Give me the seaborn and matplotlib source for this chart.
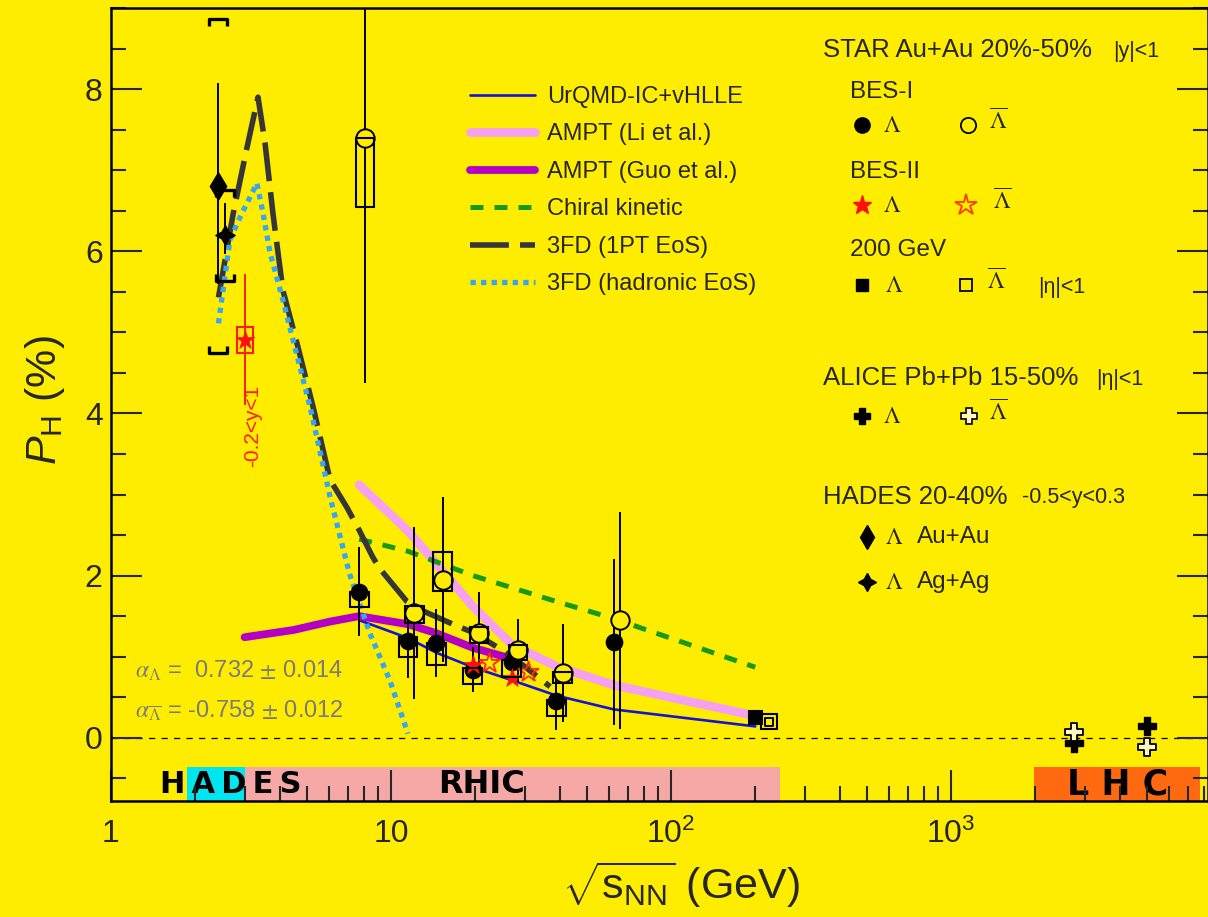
import numpy as np
import pandas as pd
import matplotlib
matplotlib.use('Agg')
import matplotlib.pyplot as plt
import seaborn as sns
from matplotlib.lines import Line2D
from matplotlib.patches import Rectangle
from matplotlib.path import Path
from matplotlib.ticker import LogLocator, MultipleLocator, FixedLocator, FixedFormatter, NullFormatter

# ---------------- data ----------------
# models
urqmd_x = [7.7, 11.5, 14.5, 19.6, 27.0, 39.0, 62.4, 200.0]
urqmd_y = [1.45, 1.23, 1.05, 0.87, 0.71, 0.52, 0.35, 0.14]

ampt_li_x = [7.7, 11.5, 14.5, 19.6, 27.0, 39.0, 62.4, 200.0]
ampt_li_y = [3.12, 2.55, 2.15, 1.62, 1.15, 0.88, 0.65, 0.27]

ampt_guo_x = [3.0, 4.5, 6.0, 7.7, 11.5, 14.5, 19.6, 26.0]
ampt_guo_y = [1.24, 1.33, 1.43, 1.50, 1.40, 1.29, 1.11, 0.99]

chiral_x = [7.7, 11.5, 19.6, 39.0, 62.4, 200.0]
chiral_y = [2.45, 2.30, 2.00, 1.68, 1.47, 0.87]

fd1pt_x = [2.42, 2.73, 3.06, 3.35, 3.55, 3.79, 4.11, 4.62, 5.27, 6.06, 6.96, 7.7, 8.6, 9.1,
           11.4, 12.7, 16.9, 19.6, 25.0, 30.0, 37.0]
fd1pt_y = [5.43, 6.46, 7.28, 7.90, 7.33, 6.46, 5.52, 4.86, 4.08, 3.18, 2.84, 2.56, 2.23, 2.09,
           1.68, 1.58, 1.39, 1.30, 1.08, 0.88, 0.63]

fdhad_x = [2.42, 2.66, 2.89, 3.32, 3.49, 3.70, 4.11, 4.73, 5.14, 6.06, 7.1, 8.4, 9.9, 11.5]
fdhad_y = [5.11, 6.14, 6.42, 6.84, 6.47, 5.98, 5.40, 4.57, 4.08, 2.97, 2.03, 1.29, 0.71, 0.05]

# STAR BES-I
bes1_lam_x = [7.7, 11.5, 14.5, 19.6, 27.0, 39.0, 62.4]
bes1_lam_y = [1.80, 1.19, 1.17, 0.84, 0.94, 0.45, 1.18]
bes1_lam_err = [0.55, 0.45, 0.42, 0.28, 0.22, 0.35, 1.02]
bes1_lam_sys_lo = [1.61, 1.00, 0.90, 0.66, 0.75, 0.27, 1.18]
bes1_lam_sys_hi = [1.80, 1.24, 1.17, 0.86, 0.96, 0.47, 1.18]

bes1_alam_x = [8.07, 12.1, 15.3, 20.6, 28.4, 41.1, 65.8]
bes1_alam_y = [7.40, 1.54, 1.95, 1.29, 1.08, 0.80, 1.45]
bes1_alam_err = [3.03, 1.06, 1.02, 0.51, 0.39, 0.60, 1.34]
bes1_alam_sys_lo = [6.54, 1.42, 1.81, 1.17, 0.96, 0.68, 1.45]
bes1_alam_sys_hi = [7.40, 1.63, 2.29, 1.37, 1.15, 0.81, 1.45]

# STAR BES-II
bes2_lam_x = [3.0, 19.6, 27.0]
bes2_lam_y = [4.91, 0.90, 0.74]
bes2_lam_err = [0.81, 0.06, 0.06]
bes2_sys_x = [3.0]
bes2_sys_lo = [4.75]
bes2_sys_hi = [5.07]
bes2_alam_x = [22.5, 31.0]
bes2_alam_y = [0.92, 0.81]

# STAR 200 GeV
s200_lam_x = [200.0]
s200_lam_y = [0.25]
s200_alam_x = [224.0]
s200_alam_y = [0.20]
s200_alam_sys_lo = [0.11]
s200_alam_sys_hi = [0.29]

# HADES
hades_au_x = [2.42]
hades_au_y = [6.80]
hades_au_err_lo = [1.20]
hades_au_err_hi = [1.28]
hades_au_sys_lo = [4.74]
hades_au_sys_hi = [8.87]
hades_ag_x = [2.55]
hades_ag_y = [6.20]
hades_ag_err_lo = [0.23]
hades_ag_err_hi = [0.39]
hades_ag_sys_lo = [5.63]
hades_ag_sys_hi = [6.76]

# ALICE
alice_x = [2760.0, 5020.0]
alice_lam_y = [-0.06, 0.14]
alice_alam_y = [0.07, -0.12]

# energy bands
band_labels = ['H\u2009A\u2009D\u2009E\u2009S', 'RHIC', 'L H C']
band_lo = [1.87, 3.01, 1980.0]
band_hi = [3.01, 245.0, 7750.0]
band_label_x = [2.68, 21.1, 3920.0]
band_label_size = [22, 23, 25]
band_colors = ['#00e6f0', '#f5a8a5', '#ff6a10']

model_labels = ['UrQMD-IC+vHLLE', 'AMPT (Li et al.)', 'AMPT (Guo et al.)',
                'Chiral kinetic', '3FD (1PT EoS)', '3FD (hadronic EoS)']

xtick_vals = [1, 10, 100, 1000]
xtick_labels = ['1', '10', r'$10^{2}$', r'$10^{3}$']
ytick_vals = [0, 2, 4, 6, 8]

# ---------------- style ----------------
YEL = '#ffed00'
sns.set_theme(style='ticks')
plt.rcParams['font.family'] = ['Liberation Sans', 'DejaVu Sans']
plt.rcParams['mathtext.fontset'] = 'custom'
plt.rcParams['mathtext.rm'] = 'Liberation Sans'
plt.rcParams['mathtext.it'] = 'Liberation Sans:italic'
plt.rcParams['mathtext.bf'] = 'Liberation Sans:bold'
plt.rcParams['axes.linewidth'] = 1.8
plt.rcParams['axes.edgecolor'] = 'black'

fig = plt.figure(figsize=(12.08, 9.17), dpi=100, facecolor=YEL)
ax = fig.add_axes([111 / 1208, 116 / 917, 1097 / 1208, 793 / 917])
ax.set_facecolor(YEL)
ax.set_axisbelow(False)
ax.set_xscale('log')
XMIN, XMAX, YMIN, YMAX = 1.0, 8280.0, -0.78, 9.0
ax.set_xlim(XMIN, XMAX)
ax.set_ylim(YMIN, YMAX)

# bands
BAND_TOP = -0.357
for lo, hi, col in zip(band_lo, band_hi, band_colors):
    ax.fill_between([lo, hi], YMIN, BAND_TOP, color=col, lw=0, zorder=1)
for lab, cx, fs in zip(band_labels, band_label_x, band_label_size):
    ax.text(cx, (YMIN + BAND_TOP) / 2 - 0.01, lab, ha='center', va='center', fontsize=fs,
            fontweight='black', family='DejaVu Sans', color='black', zorder=2)

# zero line
ax.axhline(0, color='black', lw=0.9, ls=(0, (5, 5)), zorder=2)

# model curves
model_specs = [
    (urqmd_x, urqmd_y, dict(color='#1414d2', lw=1.9, ls='-')),
    (ampt_li_x, ampt_li_y, dict(color='#f5a0f0', lw=6.3, ls='-')),
    (ampt_guo_x, ampt_guo_y, dict(color='#b400c4', lw=5.6, ls='-')),
    (chiral_x, chiral_y, dict(color='#189a18', lw=3.6, ls=(0, (2.6, 2.2)))),
    (fd1pt_x, fd1pt_y, dict(color='#363636', lw=4.0, ls=(0, (7, 2)))),
    (fdhad_x, fdhad_y, dict(color='#35a6f0', lw=3.8, ls=(0, (1, 1)))),
]
for (mx, my, st) in model_specs:
    df = pd.DataFrame({'x': mx, 'y': my})
    sns.lineplot(data=df, x='x', y='y', ax=ax, estimator=None, sort=False, legend=False,
                 zorder=3, **st)

# error bars
EK = dict(fmt='none', ecolor='black', elinewidth=1.4, capsize=0, zorder=4)
ax.errorbar(bes1_lam_x, bes1_lam_y, yerr=bes1_lam_err, **EK)
ax.errorbar(bes1_alam_x, bes1_alam_y, yerr=bes1_alam_err, **EK)
ax.errorbar(hades_au_x, hades_au_y, yerr=[hades_au_err_lo, hades_au_err_hi], **EK)
ax.errorbar(hades_ag_x, hades_ag_y, yerr=[hades_ag_err_lo, hades_ag_err_hi], **EK)
ax.errorbar(bes2_lam_x[:1], bes2_lam_y[:1], yerr=bes2_lam_err[:1], fmt='none',
            ecolor='#ff1a1a', elinewidth=1.4, capsize=0, zorder=4)

# systematic boxes
def sys_boxes(xs, lo, hi, f=1.08, color='black'):
    for x, a, b in zip(xs, lo, hi):
        if b - a < 0.01:
            continue
        ax.add_patch(Rectangle((x / f, a), x * f - x / f, b - a, fill=False,
                               edgecolor=color, lw=1.5, zorder=6))

# markers
sns.scatterplot(x=bes1_lam_x, y=bes1_lam_y, ax=ax, marker='o', s=150, color='black',
                edgecolor='black', linewidth=0.5, zorder=5)
sns.scatterplot(x=bes1_alam_x, y=bes1_alam_y, ax=ax, marker='o', s=175, facecolor=YEL,
                edgecolor='black', linewidth=1.4, zorder=5)
sys_boxes(bes1_lam_x, bes1_lam_sys_lo, bes1_lam_sys_hi)
sys_boxes(bes1_alam_x, bes1_alam_sys_lo, bes1_alam_sys_hi)

sns.scatterplot(x=bes2_lam_x, y=bes2_lam_y, ax=ax, marker='*', s=200, color='#ff1010',
                edgecolor='#ff1010', linewidth=0.5, zorder=5)
sns.scatterplot(x=bes2_alam_x, y=bes2_alam_y, ax=ax, marker='*', s=230, facecolor='none',
                edgecolor='#ff2a00', linewidth=1.3, zorder=5)
sys_boxes(bes2_sys_x, bes2_sys_lo, bes2_sys_hi, f=1.068, color='#ff1a1a')

sns.scatterplot(x=s200_lam_x, y=s200_lam_y, ax=ax, marker='s', s=95, color='black',
                edgecolor='black', zorder=5)
sns.scatterplot(x=s200_alam_x, y=s200_alam_y, ax=ax, marker='s', s=28, facecolor=YEL,
                edgecolor='black', linewidth=1.4, zorder=5)
sys_boxes(s200_alam_x, s200_alam_sys_lo, s200_alam_sys_hi, f=1.064)

sns.scatterplot(x=hades_au_x, y=hades_au_y, ax=ax, marker='d', s=190, color='black',
                edgecolor='black', zorder=5)
sns.scatterplot(x=hades_ag_x, y=hades_ag_y, ax=ax, marker=(4, 1, 0), s=190, color='black',
                edgecolor='black', zorder=5)
br_top = Path([(-1, -0.75), (-1, 0), (1, 0), (1, -0.75)])
br_bot = Path([(-1, 0.75), (-1, 0), (1, 0), (1, 0.75)])
for xs, lo, hi in [(hades_au_x, hades_au_sys_lo, hades_au_sys_hi),
                   (hades_ag_x, hades_ag_sys_lo, hades_ag_sys_hi)]:
    ax.plot(xs, hi, ls='none', marker=br_top, ms=13, mec='black', mfc='none', mew=2.4, zorder=6)
    ax.plot(xs, lo, ls='none', marker=br_bot, ms=13, mec='black', mfc='none', mew=2.4, zorder=6)

sns.scatterplot(x=alice_x, y=alice_lam_y, ax=ax, marker='P', s=150, color='black',
                edgecolor='black', zorder=5)
sns.scatterplot(x=alice_x, y=alice_alam_y, ax=ax, marker='P', s=150, facecolor='#fff8c0',
                edgecolor='black', linewidth=1.3, zorder=5)

ax.text(3.2, 3.85, '-0.2<y<1', rotation=90, color='#ff1a1a', fontsize=15,
        ha='center', va='center', zorder=7)

# alpha text
ax.text(1.22, 0.83, r'$\alpha_{\Lambda}$ =  0.732 $\pm$ 0.014', color='#7a7a7a', fontsize=17,
        math_fontfamily='stix', ha='left', va='center')
ax.text(1.22, 0.33, r'$\alpha_{\overline{\Lambda}}$ = -0.758 $\pm$ 0.012', color='#7a7a7a',
        fontsize=17, math_fontfamily='stix', ha='left', va='center')

# axes ticks
ax.xaxis.set_major_locator(FixedLocator(xtick_vals))
ax.xaxis.set_major_formatter(FixedFormatter(xtick_labels))
ax.xaxis.set_minor_locator(LogLocator(base=10, subs=np.arange(2, 10)))
ax.xaxis.set_minor_formatter(NullFormatter())
ax.yaxis.set_major_locator(FixedLocator(ytick_vals))
ax.yaxis.set_minor_locator(MultipleLocator(0.5))
ax.tick_params(axis='x', which='major', direction='in', length=22, width=1.5, labelsize=23,
               pad=13, top=False, bottom=True)
ax.tick_params(axis='x', which='minor', direction='in', length=11, width=1.5, top=False)
ax.tick_params(axis='y', which='major', direction='in', length=22, width=1.5, labelsize=23,
               pad=6, left=True, right=True)
ax.tick_params(axis='y', which='minor', direction='in', length=11, width=1.5,
               left=True, right=True)
for s in ax.spines.values():
    s.set_linewidth(1.8)
    s.set_color('black')
    s.set_zorder(8)

ax.set_xlabel(r'$\sqrt{\mathrm{s}_{\mathrm{NN}}}$ (GeV)', fontsize=31, ha='right', va='center')
ax.xaxis.set_label_coords((800 - 111) / 1097, (801 - 885) / 793)
ax.set_ylabel(r'$P_{\mathrm{H}}$ (%)', fontsize=31, va='center')
ax.yaxis.set_label_coords((45 - 111) / 1097, (801 - 400) / 793)

# model legend
handles = [Line2D([], [], **st) for (_, _, st) in model_specs]
leg = fig.legend(handles, model_labels, loc='upper left',
                 bbox_to_anchor=(470 / 1208, 1 - 86 / 917), frameon=False, fontsize=17,
                 handlelength=2.75, handletextpad=0.5, labelspacing=0.655, borderpad=0,
                 borderaxespad=0)

# right-hand legend
def P(px, py):
    return px / 1208, 1 - py / 917

def txt(px, py, s, size=17.5, **kw):
    fig.text(*P(px, py), s, fontsize=size, ha='left', va='center', **kw)

def lam(px, py, bar=False):
    s = r'$\overline{\Lambda}$' if bar else r'$\Lambda$'
    fig.text(*P(px, py), s, fontsize=17, ha='center', va='center', math_fontfamily='stix')

def mk(px, py, **kw):
    fig.add_artist(Line2D([px / 1208], [1 - py / 917], ls='none', transform=fig.transFigure, **kw))

txt(823, 50, 'STAR Au+Au 20%-50%', 18.5)
txt(1113, 52, '|y|<1', 15.5)
txt(850, 92, 'BES-I')
mk(862, 125, marker='o', ms=11, mfc='black', mec='black')
lam(892, 126)
mk(968, 125, marker='o', ms=11, mfc='none', mec='black', mew=1.3)
lam(998, 122, bar=True)
txt(850, 172, 'BES-II')
mk(862, 205, marker='*', ms=14, mfc='#ff1010', mec='#ff1010')
lam(892, 206)
mk(966, 205, marker='*', ms=16, mfc='none', mec='#ff3a00', mew=1.3)
lam(1002, 202, bar=True)
txt(850, 250, '200 GeV')
mk(862, 285, marker='s', ms=9, mfc='black', mec='black')
lam(894, 286)
mk(966, 285, marker='s', ms=9, mfc='none', mec='black', mew=1.3)
lam(996, 282, bar=True)
txt(1038, 287, '|η|<1', 15.5)
txt(823, 378, 'ALICE Pb+Pb 15-50%', 18.5)
txt(1096, 380, '|η|<1', 15.5)
mk(862, 416, marker='P', ms=11, mfc='black', mec='black')
lam(892, 417)
mk(969, 416, marker='P', ms=11, mfc='#fff8c0', mec='black', mew=1.2)
lam(998, 413, bar=True)
txt(823, 497, 'HADES 20-40%', 18.5)
txt(1022, 497, '-0.5<y<0.3', 15.5)
mk(867, 537, marker='d', ms=12, mfc='black', mec='black')
lam(894, 538)
txt(917, 537, 'Au+Au')
mk(867, 582, marker=(4, 1, 0), ms=13, mfc='black', mec='black')
lam(894, 583)
txt(917, 582, 'Ag+Ag')

fig.savefig('out.png', dpi=100, facecolor=YEL)
